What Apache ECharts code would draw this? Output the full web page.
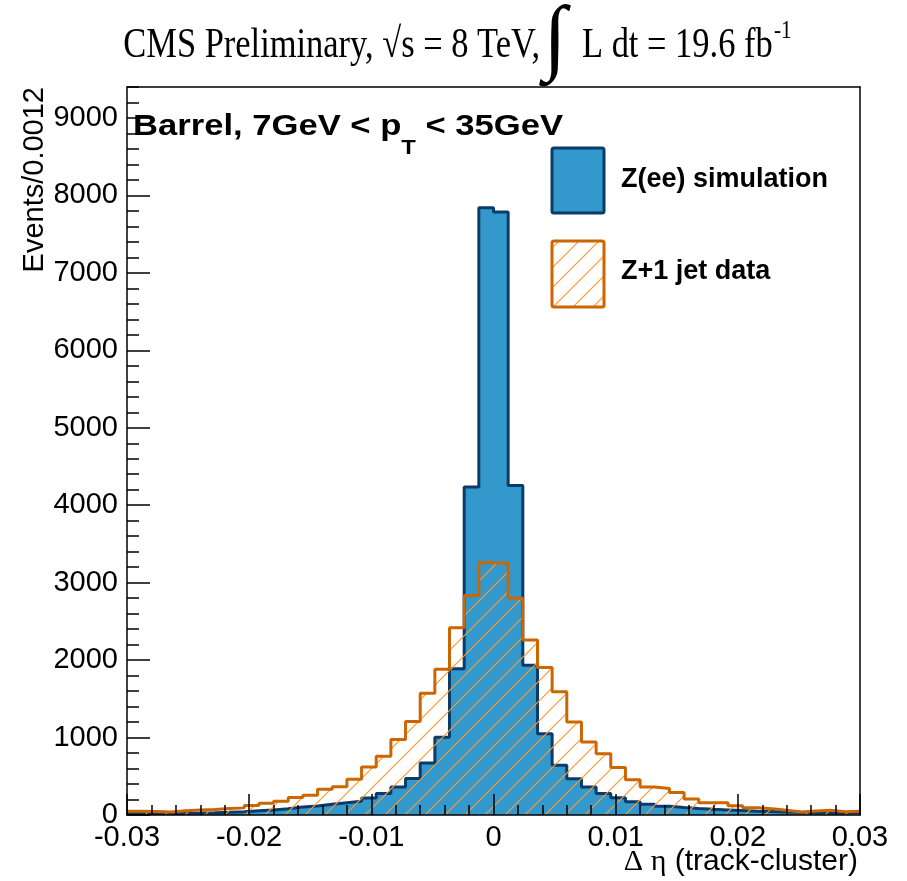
<!DOCTYPE html>
<html><head><meta charset="utf-8">
<script src="https://cdn.jsdelivr.net/npm/echarts@6/dist/echarts.min.js"></script>
<style>html,body{margin:0;padding:0;background:#fff}#c{width:907px;height:881px}</style>
</head><body><div id="c"></div>
<script>
// ---- data ----
const binLow = -0.03;
const binWidth = 0.0012;
const nBins = 50;
const simCounts = [20, 18, 20, 24, 25, 28, 34, 43, 56, 65,
  80, 103, 116, 138, 159, 177, 220, 276, 362, 470,
  672, 1005, 1888, 4236, 7841, 7785, 4254, 1935, 1050, 642,
  468, 360, 276, 222, 170, 140, 114, 97, 84, 74,
  66, 58, 50, 44, 38, 34, 32, 30, 26, 25];
const dataCounts = [50, 45, 40, 56, 66, 72, 84, 92, 123, 151,
  178, 226, 256, 332, 366, 462, 620, 760, 974, 1207,
  1573, 1883, 2418, 2835, 3258, 3248, 2800, 2259, 1905, 1590,
  1200, 944, 790, 612, 456, 362, 342, 292, 208, 159,
  159, 121, 95, 82, 60, 39, 52, 60, 43, 47];
const xTickLabels = ['-0.03', '-0.02', '-0.01', '0', '0.01', '0.02', '0.03'];
const yTickLabels = ['0','1000','2000','3000','4000','5000','6000','7000','8000','9000'];
const seriesNames = ['Z(ee) simulation', 'Z+1 jet data'];

// ---- helpers ----
function edge(k) { return +(binLow + k * binWidth).toFixed(6); }
function stepData(counts) {
  const pts = counts.map((v, k) => [edge(k), v]);
  pts.push([edge(nBins), counts[counts.length - 1]]);
  return pts;
}
function hatchCanvas() {
  const c = document.createElement('canvas');
  c.width = 20; c.height = 20;
  const g = c.getContext('2d');
  g.strokeStyle = '#ff9933'; g.lineWidth = 1.2;
  g.beginPath();
  g.moveTo(0, 20); g.lineTo(20, 0);
  g.moveTo(-5, 5); g.lineTo(5, -5);
  g.moveTo(15, 25); g.lineTo(25, 15);
  g.stroke();
  return c;
}
const hatch = { image: hatchCanvas(), repeat: 'repeat' };
const mctx = document.createElement('canvas').getContext('2d');
function tw(text, font) { mctx.font = font; return mctx.measureText(text).width; }

const SANS = '"Liberation Sans", Arial, sans-serif';
const SERIF = '"Liberation Serif", "Times New Roman", serif';
const BLUE = '#3399cc', DBLUE = '#0b3b6b', ORANGE = '#cc6600';

function txt(x, y, text, font, align, opts) {
  return Object.assign({
    type: 'text', x: x, y: y, z: 100,
    style: { text: text, font: font, fill: '#000', textAlign: align, align: align,
             textVerticalAlign: 'middle', verticalAlign: 'middle' }
  }, opts || {});
}

// "Barrel" label fitted into its box
const bFont = 'bold 29px ' + SANS, bSub = 'bold 20px ' + SANS;
const bw1 = tw('Barrel, 7GeV < p', bFont), bwT = tw('T', bSub), bw2 = tw(' < 35GeV', bFont);
const bScale = 430 / (bw1 + bwT + bw2);

const titleFont = '42px ' + SERIF;
const tScale = 0.82;

const graphics = [
  txt(540, 46, 'CMS Preliminary, \u221As = 8 TeV,', titleFont, 'right', { scaleX: tScale }),
  txt(555, 42, '\u222B', 'bold 84px ' + SERIF, 'center'),
  txt(582, 46, 'L dt = 19.6 fb', titleFont, 'left', { scaleX: tScale }),
  txt(774, 31, '-1', '26px ' + SERIF, 'left', { scaleX: tScale }),
  {
    type: 'group', x: 133, y: 0, scaleX: bScale, children: [
      txt(0, 127, 'Barrel, 7GeV < p', bFont, 'left'),
      txt(bw1, 148, 'T', bSub, 'left'),
      txt(bw1 + bwT, 127, ' < 35GeV', bFont, 'left')
    ]
  },
  { type: 'rect', z: 100, shape: { x: 552, y: 148, width: 52, height: 65, r: 2 },
    style: { fill: BLUE, stroke: DBLUE, lineWidth: 3 } },
  { type: 'rect', z: 100, shape: { x: 552, y: 241, width: 52, height: 66, r: 2 },
    style: { fill: hatch, stroke: ORANGE, lineWidth: 3 } },
  txt(621, 180, seriesNames[0], 'bold 27px ' + SANS, 'left'),
  txt(621, 272, seriesNames[1], 'bold 27px ' + SANS, 'left'),
  txt(35, 87, 'Events/0.0012', '29px ' + SANS, 'right', { rotation: Math.PI / 2 }),
  {
    type: 'text', x: 858, y: 862, z: 100,
    style: { text: '{g|\u0394 \u03b7} (track-cluster)', font: '30px ' + SANS, fill: '#000',
      textAlign: 'right', align: 'right', textVerticalAlign: 'middle', verticalAlign: 'middle',
      rich: { g: { fontFamily: SERIF, fontSize: 30 } } }
  }
];

const axLine = { show: true, onZero: false, lineStyle: { color: '#000', width: 1.5 } };
const noAx = { axisTick: { show: false }, axisLabel: { show: false }, splitLine: { show: false } };

const chart = echarts.init(document.getElementById('c'), null, { renderer: 'canvas' });
chart.setOption({
  animation: false,
  backgroundColor: '#fff',
  grid: { left: 127, right: 47, top: 87, bottom: 66, containLabel: false },
  xAxis: [
    {
      type: 'value', min: -0.03, max: 0.03, interval: 0.01, position: 'bottom', z: 10,
      axisLine: axLine,
      axisTick: { show: true, inside: true, length: 21, lineStyle: { color: '#000', width: 1.5 } },
      minorTick: { show: true, splitNumber: 5, length: 10, lineStyle: { color: '#000', width: 1.5 } },
      splitLine: { show: false }, minorSplitLine: { show: false },
      axisLabel: {
        color: '#000', fontFamily: SANS, fontSize: 29, margin: 8,
        formatter: v => xTickLabels[Math.round((v - binLow) / 0.01)]
      }
    },
    Object.assign({ type: 'value', min: -0.03, max: 0.03, position: 'top', z: 10, axisLine: axLine }, noAx)
  ],
  yAxis: [
    {
      type: 'value', min: 0, max: 9400, interval: 1000, position: 'left', z: 10,
      axisLine: axLine,
      axisTick: { show: true, inside: true, length: 23, lineStyle: { color: '#000', width: 1.5 } },
      splitLine: { show: false },
      axisLabel: {
        color: '#000', fontFamily: SANS, fontSize: 29, margin: 9, showMaxLabel: false,
        formatter: v => yTickLabels[Math.round(v / 1000)] || ''
      }
    },
    Object.assign({ type: 'value', min: 0, max: 9400, position: 'right', z: 10, axisLine: axLine }, noAx),
    {
      type: 'value', min: 0, max: 9400, interval: 200, position: 'left', z: 10,
      axisLine: { show: false, onZero: false },
      axisTick: { show: true, inside: true, length: 12, lineStyle: { color: '#000', width: 1.5 } },
      axisLabel: { show: false }, splitLine: { show: false }
    }
  ],
  series: [
    {
      name: seriesNames[0], type: 'line', step: 'end', xAxisIndex: 0, yAxisIndex: 0,
      data: stepData(simCounts), symbol: 'none', z: 2,
      lineStyle: { color: DBLUE, width: 3 },
      areaStyle: { color: BLUE, opacity: 1 }
    },
    {
      name: seriesNames[1], type: 'line', step: 'end', xAxisIndex: 0, yAxisIndex: 0,
      data: stepData(dataCounts), symbol: 'none', z: 3,
      lineStyle: { color: ORANGE, width: 3 },
      areaStyle: { color: hatch, opacity: 1 }
    }
  ],
  graphic: graphics
});
</script>
</body></html>
